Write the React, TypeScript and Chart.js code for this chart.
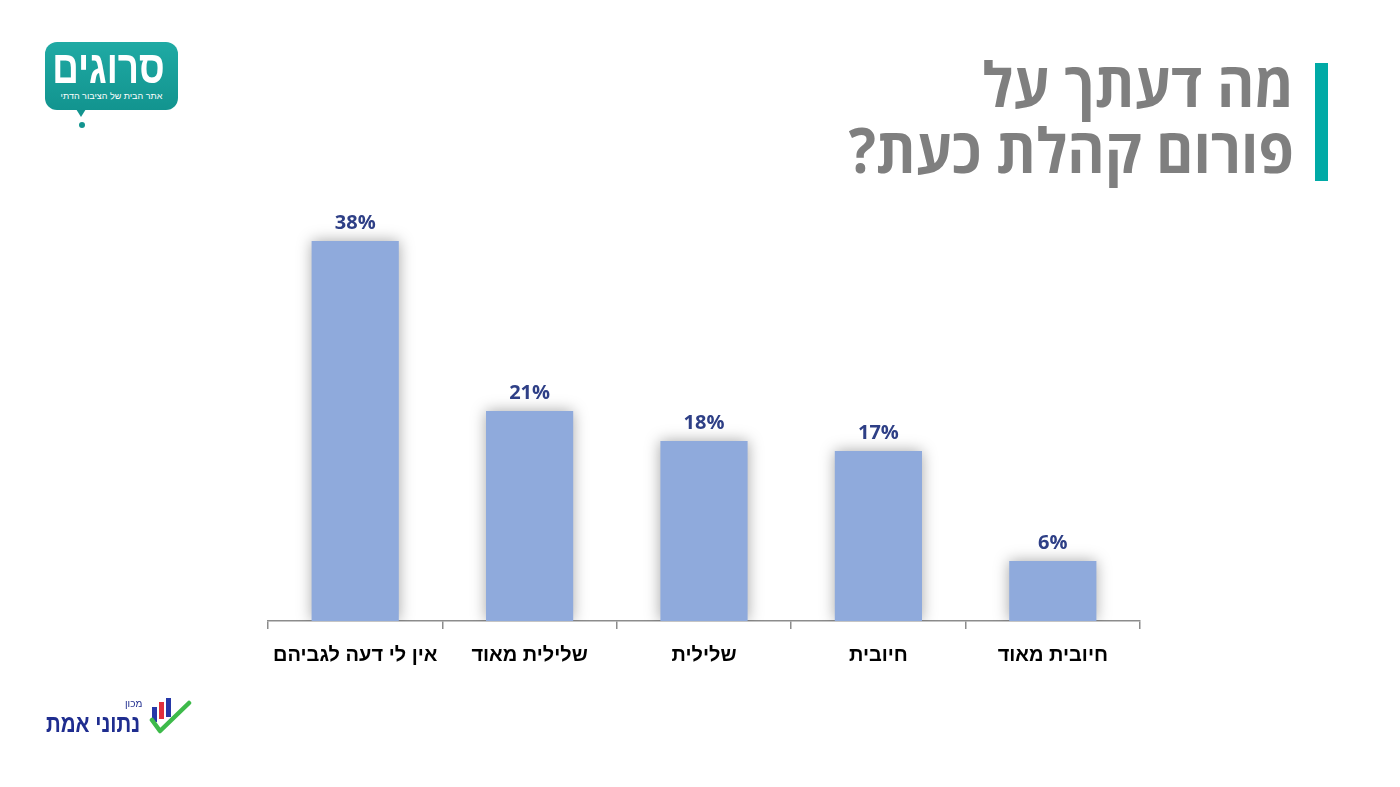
import React, { useEffect, useRef } from "react";
import { Chart, registerables } from "chart.js";

Chart.register(...registerables);

const categories = ["אין לי דעה לגביהם", "שלילית מאוד", "שלילית", "חיובית", "חיובית מאוד"];
const values = [38, 21, 18, 17, 6];
const valueLabels = ["38%", "21%", "18%", "17%", "6%"];
const titleLines = ["מה דעתך על", "פורום קהלת כעת?"];
const yMin = 0;
const yMax = 40;

const BAR_COLOR = "#8FAADC";
const LABEL_COLOR = "#2E3F86";
const AXIS_COLOR = "#8C8C8C";

const shadowPlugin = {
  id: "barShadow",
  beforeDatasetDraw(chart: any) {
    const ctx = chart.ctx;
    ctx.save();
    ctx.shadowColor = "rgba(0,0,0,0.35)";
    ctx.shadowBlur = 14;
    ctx.shadowOffsetX = 0;
    ctx.shadowOffsetY = 0;
  },
  afterDatasetDraw(chart: any) {
    chart.ctx.restore();
  },
};

const valueLabelPlugin = {
  id: "valueLabels",
  afterDatasetsDraw(chart: any) {
    const ctx = chart.ctx;
    const meta = chart.getDatasetMeta(0);
    ctx.save();
    ctx.font = "bold 20px 'Open Sans', 'Liberation Sans', sans-serif";
    ctx.fillStyle = LABEL_COLOR;
    ctx.textAlign = "center";
    ctx.textBaseline = "alphabetic";
    meta.data.forEach((el: any, i: number) => {
      ctx.fillText(valueLabels[i], el.x, el.y - 12);
    });
    ctx.restore();
  },
};

function ChartCanvas() {
  const ref = useRef<HTMLCanvasElement | null>(null);
  useEffect(() => {
    if (!ref.current) return;
    const chart = new Chart(ref.current, {
      type: "bar",
      data: {
        labels: categories,
        datasets: [
          {
            data: values,
            backgroundColor: BAR_COLOR,
            borderWidth: 0,
            barPercentage: 0.5,
            categoryPercentage: 1.0,
          },
        ],
      },
      options: {
        responsive: false,
        animation: false,
        devicePixelRatio: 1,
        layout: { padding: { left: 268, right: 260, top: 221, bottom: 0 } },
        plugins: {
          legend: { display: false },
          tooltip: { enabled: false },
          title: { display: false },
        },
        scales: {
          x: {
            grid: {
              display: true,
              drawOnChartArea: false,
              drawTicks: true,
              tickLength: 8,
              color: AXIS_COLOR,
              lineWidth: 1.5,
              offset: true,
            },
            border: { display: true, color: AXIS_COLOR, width: 1.5 },
            ticks: {
              color: "#000000",
              font: { family: "'Liberation Sans Narrow', 'Liberation Sans', Arial, sans-serif", size: 20, weight: "bold" },
              padding: 14,
              maxRotation: 0,
              autoSkip: false,
            },
            afterFit: (scale: any) => {
              scale.height = 166;
            },
          },
          y: { display: false, min: yMin, max: yMax },
        },
      },
      plugins: [shadowPlugin, valueLabelPlugin],
    } as any);
    return () => chart.destroy();
  }, []);
  return <canvas ref={ref} width={1400} height={787} style={{ position: "absolute", left: 0, top: 0 }} />;
}

export default function App() {
  return (
    <div
      style={{
        position: "absolute",
        left: 0,
        top: 0,
        width: 1400,
        height: 787,
        background: "#ffffff",
        overflow: "hidden",
      }}
    >
      <ChartCanvas />
      {/* Title */}
      <div
        style={{
          position: "absolute",
          right: 106,
          top: 50,
          direction: "rtl",
          textAlign: "right",
          fontFamily: "'Open Sans', 'Liberation Sans', sans-serif",
          fontWeight: 700,
          fontSize: 62,
          lineHeight: "66px",
          color: "#7F7F7F",
          whiteSpace: "nowrap",
          transform: "scaleX(0.92)",
          transformOrigin: "right center",
        }}
      >
        {titleLines.map((t, i) => (
          <div key={i}>{t}</div>
        ))}
      </div>
      <div style={{ position: "absolute", left: 1315, top: 63, width: 13, height: 118, background: "#00AAA6" }} />

      {/* Sarugim logo */}
      <div
        style={{
          position: "absolute",
          left: 45,
          top: 42,
          width: 133,
          height: 68,
          borderRadius: 12,
          background: "linear-gradient(180deg, #1FAAA4 0%, #12948F 100%)",
          color: "#ffffff",
          textAlign: "center",
          direction: "rtl",
          fontFamily: "'Liberation Sans', sans-serif",
        }}
      >
        <div
          style={{
            fontSize: 46,
            fontWeight: 700,
            lineHeight: "46px",
            marginTop: 2,
            transform: "scaleX(0.8)",
            transformOrigin: "center",
            whiteSpace: "nowrap",
          }}
        >
          סרוגים
        </div>
        <div style={{ fontSize: 9, lineHeight: "12px", whiteSpace: "nowrap" }}>אתר הבית של הציבור הדתי</div>
      </div>
      <div
        style={{
          position: "absolute",
          left: 76,
          top: 109,
          width: 0,
          height: 0,
          borderLeft: "5px solid transparent",
          borderRight: "5px solid transparent",
          borderTop: "8px solid #12948F",
        }}
      />
      <div style={{ position: "absolute", left: 79, top: 122, width: 6, height: 6, borderRadius: 3, background: "#12948F" }} />

      {/* Nativ Emet logo */}
      <div
        style={{
          position: "absolute",
          left: 46,
          top: 707,
          direction: "rtl",
          fontFamily: "'Liberation Sans', sans-serif",
          fontWeight: 700,
          fontSize: 25,
          lineHeight: "32px",
          color: "#1F2D8F",
          whiteSpace: "nowrap",
          transform: "scaleX(0.82)",
          transformOrigin: "left center",
        }}
      >
        נתוני אמת
      </div>
      <div
        style={{
          position: "absolute",
          left: 125,
          top: 698,
          direction: "rtl",
          fontFamily: "'Liberation Sans', sans-serif",
          fontSize: 10,
          lineHeight: "12px",
          color: "#1F2D8F",
        }}
      >
        מכון
      </div>
      <svg style={{ position: "absolute", left: 149, top: 695 }} width={44} height={42}>
        <rect x={3} y={12} width={5} height={15} fill="#2638A8" />
        <rect x={10} y={7} width={5} height={17} fill="#E0303C" />
        <rect x={17} y={3} width={5} height={19} fill="#2638A8" />
        <path d="M3 25 L11 36 L40 8" stroke="#3DBA4A" strokeWidth={4.5} fill="none" strokeLinecap="round" strokeLinejoin="round" />
      </svg>
    </div>
  );
}
